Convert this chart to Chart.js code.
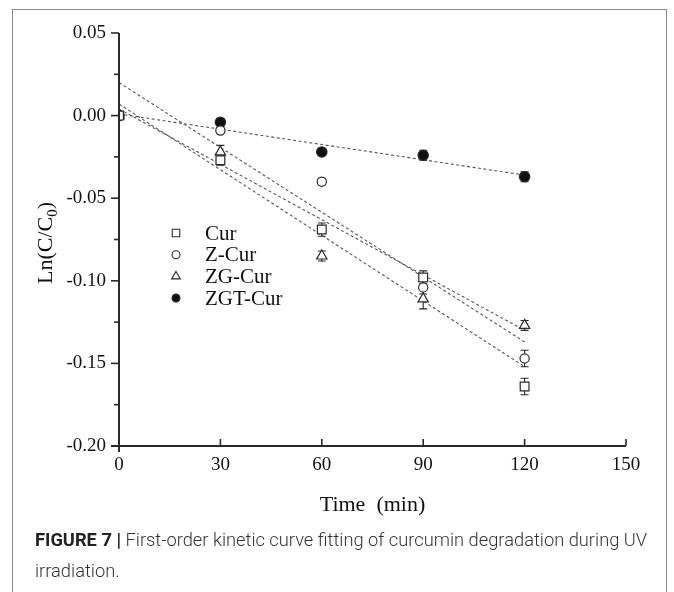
<!DOCTYPE html>
<html><head><meta charset="utf-8">
<script src="https://cdn.jsdelivr.net/npm/chart.js@4/dist/chart.umd.min.js"></script>
<style>
html,body{margin:0;padding:0;background:#fff;}
#wrap{position:relative;width:674px;height:592px;overflow:hidden;background:#fff;}
#frame{position:absolute;left:12px;top:9px;width:655px;height:620px;border:1.5px solid #8a8a8a;box-sizing:border-box;}
#c{position:absolute;left:0;top:0;}
#cap{position:absolute;left:35px;top:524px;width:628px;font-family:Roboto,"Liberation Sans",sans-serif;font-weight:300;font-size:18.3px;line-height:31px;color:#333;white-space:nowrap;-webkit-font-smoothing:antialiased;will-change:transform;transform:translateZ(0);}
#cap b{font-weight:700;color:#222;}
</style></head>
<body>
<div id="wrap">
<div id="frame"></div>
<canvas id="c" width="674" height="520"></canvas>
<div id="cap"><b>FIGURE 7 |</b> First-order kinetic curve fitting of curcumin degradation during UV<br>irradiation.</div>
</div>
<script>
// ---- data ----
const times = [0, 30, 60, 90, 120];
const seriesNames = ["Cur", "Z-Cur", "ZG-Cur", "ZGT-Cur"];
const curVals  = [0, -0.027, -0.069, -0.098, -0.164];
const zCurVals = [0, -0.009, -0.040, -0.104, -0.147];
const zgCurVals = [0, -0.022, -0.085, -0.111, -0.127];
const zgtCurVals = [0, -0.004, -0.022, -0.024, -0.037];
const curErr  = [0, 0.003, 0.004, 0.004, 0.005];
const zCurErr = [0, 0.002, 0.002, 0.004, 0.005];
const zgCurErr = [0, 0.004, 0.003, 0.006, 0.003];
const zgtCurErr = [0, 0.002, 0.002, 0.003, 0.003];
// fitted lines (start/end values read at t=0 and t=120)
const fitTimes = [0, 120];
const curFit = [0.007, -0.152];
const zCurFit = [0.020, -0.137];
const zgCurFit = [0.004, -0.130];
const zgtCurFit = [0.001, -0.036];
const xTicks = [0, 30, 60, 90, 120, 150];
const yTicks = [0.05, 0.00, -0.05, -0.10, -0.15, -0.20];

const pts = (xs, ys) => xs.map((x, i) => ({x: x, y: ys[i]}));
const INK = '#2a2a2a';

function pointDs(label, vals, err, style, radius, filled) {
  return {
    type: 'scatter', label: label, data: pts(times, vals), errors: err,
    pointStyle: style, pointRadius: radius, pointHoverRadius: radius,
    backgroundColor: filled ? '#111' : '#fff', borderColor: INK,
    pointBorderWidth: 1.2, borderWidth: 1.2, showLine: false, order: 0, inLegend: true
  };
}
function fitDs(vals) {
  return {
    type: 'line', label: '', data: pts(fitTimes, vals), borderColor: '#555',
    borderWidth: 1.1, borderDash: [3, 2.5], pointRadius: 0, fill: false, order: 10, inLegend: false
  };
}

const axisPlugin = {
  id: 'axisDeco',
  beforeDatasetsDraw(chart) {
    const ctx = chart.ctx, x = chart.scales.x, y = chart.scales.y;
    ctx.save();
    ctx.strokeStyle = INK; ctx.lineWidth = 1.1;
    chart.data.datasets.forEach(ds => {
      if (!ds.errors) return;
      ds.data.forEach((p, i) => {
        const e = ds.errors[i]; if (!e) return;
        const px = x.getPixelForValue(p.x);
        const y1 = y.getPixelForValue(p.y + e), y2 = y.getPixelForValue(p.y - e);
        ctx.beginPath();
        ctx.moveTo(px, y1); ctx.lineTo(px, y2);
        ctx.moveTo(px - 4, y1); ctx.lineTo(px + 4, y1);
        ctx.moveTo(px - 4, y2); ctx.lineTo(px + 4, y2);
        ctx.stroke();
      });
    });
    ctx.restore();
  },
  afterDraw(chart) {
    const ctx = chart.ctx, x = chart.scales.x, y = chart.scales.y;
    const a = chart.chartArea;
    ctx.save();
    ctx.strokeStyle = INK; ctx.lineWidth = 2;
    ctx.beginPath();
    ctx.moveTo(a.left, a.top); ctx.lineTo(a.left, a.bottom + 6);
    ctx.moveTo(a.left - 8, a.bottom); ctx.lineTo(a.right, a.bottom);
    ctx.stroke();
    ctx.lineWidth = 1.6;
    yTicks.forEach(v => {
      const py = y.getPixelForValue(v);
      ctx.beginPath(); ctx.moveTo(a.left - 8, py); ctx.lineTo(a.left, py); ctx.stroke();
    });
    for (let i = 0; i < yTicks.length - 1; i++) {
      const py = y.getPixelForValue((yTicks[i] + yTicks[i + 1]) / 2);
      ctx.beginPath(); ctx.moveTo(a.left - 5, py); ctx.lineTo(a.left, py); ctx.stroke();
    }
    xTicks.forEach(v => {
      const px = x.getPixelForValue(v);
      ctx.beginPath(); ctx.moveTo(px, a.bottom); ctx.lineTo(px, a.bottom - 7); ctx.stroke();
    });
    ctx.fillStyle = '#111';
    ctx.font = '22px "Liberation Serif", "Times New Roman", serif';
    ctx.textAlign = 'center'; ctx.textBaseline = 'middle';
    ctx.fillText('Time  (min)', (a.left + a.right) / 2, 505);
    ctx.save();
    ctx.translate(45, 243);
    ctx.rotate(-Math.PI / 2);
    const main = 'Ln(C/C', sub = '0', tail = ')';
    ctx.font = '22px "Liberation Serif", serif';
    const w1 = ctx.measureText(main).width, w3 = ctx.measureText(tail).width;
    ctx.font = '15px "Liberation Serif", serif';
    const w2 = ctx.measureText(sub).width;
    let sx = -(w1 + w2 + w3) / 2;
    ctx.textAlign = 'left'; ctx.textBaseline = 'alphabetic';
    ctx.font = '22px "Liberation Serif", serif';
    ctx.fillText(main, sx, 7); sx += w1;
    ctx.font = '15px "Liberation Serif", serif';
    ctx.fillText(sub, sx, 12); sx += w2;
    ctx.font = '22px "Liberation Serif", serif';
    ctx.fillText(tail, sx, 7);
    ctx.restore();
    const legendDs = chart.data.datasets.filter(d => d.inLegend);
    legendDs.forEach((d, i) => {
      const ly = 233 + i * 21.7;
      ctx.fillStyle = d.backgroundColor; ctx.strokeStyle = INK; ctx.lineWidth = 1.1;
      Chart.helpers.drawPoint(ctx, {
        pointStyle: d.pointStyle, radius: d.pointStyle === 'rect' ? 5.3 : (d.pointStyle === 'triangle' ? 5 : 4),
        borderWidth: 1.1, rotation: 0
      }, 176, ly);
      ctx.fillStyle = '#111';
      ctx.font = '21px "Liberation Serif", serif';
      ctx.textAlign = 'left'; ctx.textBaseline = 'middle';
      ctx.fillText(d.label, 205, ly + 1);
    });
    ctx.restore();
  }
};

new Chart(document.getElementById('c'), {
  data: {
    datasets: [
      pointDs(seriesNames[0], curVals, curErr, 'rect', 6.2, false),
      pointDs(seriesNames[1], zCurVals, zCurErr, 'circle', 4.6, false),
      pointDs(seriesNames[2], zgCurVals, zgCurErr, 'triangle', 6, false),
      pointDs(seriesNames[3], zgtCurVals, zgtCurErr, 'circle', 5.2, true),
      fitDs(curFit), fitDs(zCurFit), fitDs(zgCurFit), fitDs(zgtCurFit)
    ]
  },
  options: {
    responsive: false, animation: false,
    layout: {padding: {left: 0, top: 33, right: 48, bottom: 0}},
    plugins: {legend: {display: false}, tooltip: {enabled: false}},
    scales: {
      x: {
        type: 'linear', min: 0, max: 150,
        afterBuildTicks: s => { s.ticks = xTicks.map(v => ({value: v})); },
        afterFit: s => { s.height = 74; },
        grid: {display: false, drawTicks: false, tickLength: 0}, border: {display: false},
        ticks: {padding: 8, color: '#111', maxRotation: 0,
          font: {family: '"Liberation Serif", serif', size: 19}}
      },
      y: {
        type: 'linear', min: -0.2, max: 0.05,
        afterBuildTicks: s => { s.ticks = yTicks.map(v => ({value: v})); },
        afterFit: s => { s.width = 119; },
        grid: {display: false, drawTicks: false, tickLength: 0}, border: {display: false},
        ticks: {padding: 13, color: '#111', callback: v => v.toFixed(2),
          font: {family: '"Liberation Serif", serif', size: 19}}
      }
    }
  },
  plugins: [axisPlugin]
});
</script>
</body></html>
